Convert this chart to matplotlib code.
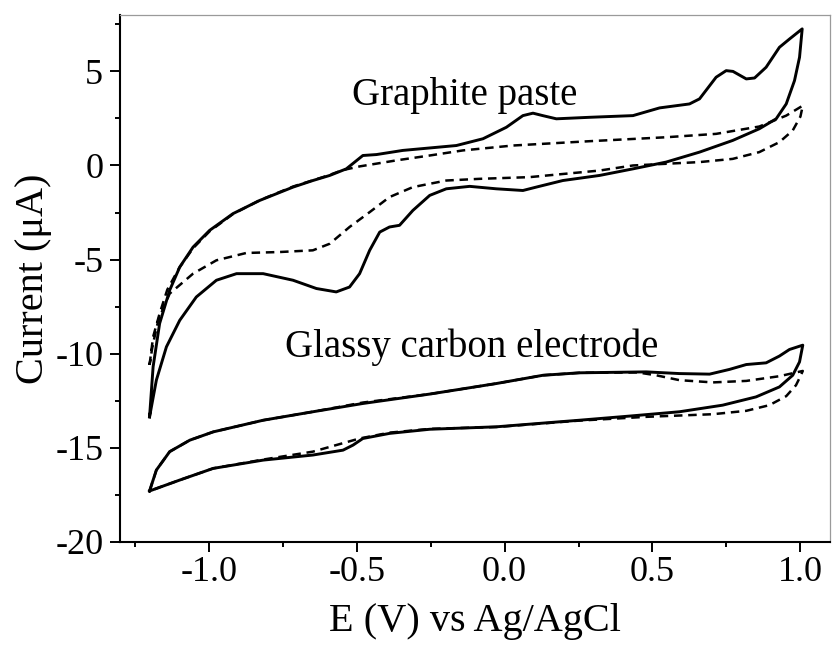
import matplotlib
matplotlib.use("Agg")
import matplotlib.pyplot as plt
from matplotlib.ticker import MultipleLocator, FormatStrFormatter

plt.rcParams['font.family'] = ['Liberation Serif', 'DejaVu Serif']
plt.rcParams['axes.unicode_minus'] = False

# Graphite paste electrode, solid curve (closed CV loop)
gp_solid_x = [-1.20, -1.188, -1.166, -1.132, -1.098, -1.053, -0.997, -0.918, -0.828, -0.715,
              -0.648, -0.591, -0.535, -0.479, -0.433, -0.344, -0.163, -0.073, 0.006, 0.062,
              0.096, 0.129, 0.175, 0.287, 0.434, 0.524, 0.625, 0.659, 0.715, 0.749,
              0.772, 0.817, 0.845, 0.884, 0.929, 0.963, 1.006,
              0.997, 0.98, 0.952, 0.918, 0.861, 0.771, 0.659, 0.546, 0.434, 0.321,
              0.197, 0.107, 0.062, -0.028, -0.118, -0.197, -0.253, -0.31, -0.355, -0.389,
              -0.422, -0.456, -0.49, -0.524, -0.569, -0.636, -0.715, -0.816, -0.906, -0.974,
              -1.042, -1.098, -1.143, -1.177, -1.20]
gp_solid_y = [-13.36, -10.7, -8.40, -6.63, -5.40, -4.34, -3.45, -2.56, -1.86, -1.15,
              -0.80, -0.53, -0.18, 0.53, 0.58, 0.80, 1.06, 1.42, 2.03, 2.65,
              2.78, 2.65, 2.48, 2.56, 2.65, 3.06, 3.27, 3.54, 4.69, 5.04,
              5.00, 4.60, 4.65, 5.22, 6.28, 6.72, 7.26,
              5.75, 4.51, 3.27, 2.48, 1.95, 1.33, 0.71, 0.18, -0.18, -0.53,
              -0.80, -1.15, -1.33, -1.24, -1.11, -1.24, -1.59, -2.39, -3.18, -3.27,
              -3.54, -4.51, -5.75, -6.46, -6.72, -6.54, -6.10, -5.75, -5.75, -6.10,
              -6.99, -8.23, -9.64, -11.41, -13.36]

# Graphite paste electrode, dashed curve
gp_dash_x = [-1.20, -1.188, -1.166, -1.14, -1.10, -1.053, -0.997, -0.918, -0.828, -0.715,
             -0.60, -0.548, -0.49, -0.366, -0.253, -0.141, 0.028, 0.287, 0.546, 0.715,
             0.861, 0.952, 1.008,
             1.0, 0.974, 0.929, 0.861, 0.771, 0.659, 0.546, 0.434, 0.321, 0.084,
             -0.084, -0.197, -0.31, -0.389, -0.456, -0.524, -0.591, -0.648, -0.76, -0.873,
             -0.974, -1.053, -1.132, -1.17, -1.19, -1.20]
gp_dash_y = [-10.6, -9.11, -7.87, -6.6, -5.45, -4.40, -3.50, -2.58, -1.85, -1.12,
             -0.55, -0.25, -0.05, 0.27, 0.53, 0.80, 1.06, 1.29, 1.50, 1.68,
             2.07, 2.65, 3.18,
             2.6, 1.86, 1.24, 0.71, 0.35, 0.18, 0.09, 0.0, -0.27, -0.62,
             -0.71, -0.80, -1.15, -1.68, -2.48, -3.27, -4.16, -4.51, -4.60, -4.65,
             -5.04, -5.75, -6.81, -8.2, -9.6, -10.6]

# Glassy carbon electrode, solid curve
gc_solid_x = [-1.20, -1.177, -1.132, -1.064, -0.985, -0.816, -0.648, -0.479, -0.253, -0.028,
              0.13, 0.253, 0.479, 0.591, 0.693, 0.76, 0.817, 0.884, 0.929, 0.963, 1.008,
              0.997, 0.974, 0.929, 0.85, 0.737, 0.591, 0.422, 0.253, -0.028, -0.253,
              -0.389, -0.479, -0.512, -0.546, -0.648, -0.816, -0.985, -1.098, -1.20]
gc_solid_y = [-17.3, -16.19, -15.21, -14.60, -14.16, -13.54, -13.09, -12.65, -12.15, -11.59,
              -11.15, -11.02, -10.97, -11.06, -11.09, -10.84, -10.58, -10.49, -10.13, -9.78, -9.55,
              -10.44, -11.15, -11.77, -12.30, -12.74, -13.09, -13.32, -13.54, -13.89, -14.02,
              -14.24, -14.51, -14.86, -15.13, -15.39, -15.66, -16.10, -16.72, -17.3]

# Glassy carbon electrode, dashed curve
gc_dash_x = [-1.20, -1.177, -1.132, -1.064, -0.985, -0.816, -0.648, -0.479, -0.253, -0.028,
             0.13, 0.253, 0.45, 0.512, 0.591, 0.704, 0.817, 0.929, 1.008,
             1.0, 0.985, 0.952, 0.895, 0.817, 0.704, 0.479, 0.253, -0.028, -0.253,
             -0.389, -0.49, -0.569, -0.648, -0.816, -0.985, -1.098, -1.20]
gc_dash_y = [-17.3, -16.19, -15.21, -14.60, -14.16, -13.54, -13.09, -12.60, -12.15, -11.59,
             -11.15, -11.02, -11.0, -11.15, -11.41, -11.53, -11.45, -11.2, -10.92,
             -11.2, -11.68, -12.26, -12.74, -13.04, -13.22, -13.36, -13.56, -13.9, -14.0,
             -14.2, -14.51, -14.86, -15.21, -15.63, -16.1, -16.72, -17.3]

labels = ["Graphite paste", "Glassy carbon electrode"]
label_pos_x = [-0.135, -0.11]
label_pos_y = [3.7, -9.66]

fig = plt.figure(figsize=(8.32, 6.5), dpi=100)
ax = fig.add_axes([0.1442, 0.1665, 0.8534, 0.8105])

lw = 2.1
dash = (0, (3.4, 2.3))
ax.plot(gp_solid_x, gp_solid_y, color='black', lw=lw, solid_joinstyle='round')
ax.plot(gp_dash_x, gp_dash_y, color='black', lw=1.8, linestyle=dash)
ax.plot(gc_solid_x, gc_solid_y, color='black', lw=lw, solid_joinstyle='round')
ax.plot(gc_dash_x, gc_dash_y, color='black', lw=1.8, linestyle=dash)

for t, x, y in zip(labels, label_pos_x, label_pos_y):
    ax.text(x, y, t, ha='center', va='center', fontsize=28)

ax.set_xlim(-1.3, 1.1)
ax.set_ylim(-20, 8)
ax.xaxis.set_major_locator(MultipleLocator(0.5))
ax.xaxis.set_minor_locator(MultipleLocator(0.25))
ax.yaxis.set_major_locator(MultipleLocator(5))
ax.yaxis.set_minor_locator(MultipleLocator(2.5))
ax.xaxis.set_major_formatter(FormatStrFormatter('%.1f'))

ax.tick_params(which='major', direction='out', length=7, width=1.4, labelsize=26)
ax.tick_params(which='minor', direction='out', length=3.6, width=1.4)
ax.tick_params(axis='x', which='major', pad=3)
ax.tick_params(axis='y', which='major', pad=5)
ax.tick_params(top=False, right=False, which='both')

for s in ['left', 'bottom']:
    ax.spines[s].set_linewidth(1.5)
    ax.spines[s].set_color('black')
for s in ['top', 'right']:
    ax.spines[s].set_linewidth(0.9)
    ax.spines[s].set_color('#9a9a9a')

ax.set_xlabel("E (V) vs Ag/AgCl", fontsize=29, labelpad=10)
ax.set_ylabel("Current (μA)", fontsize=29, labelpad=2)

fig.savefig("out.png", dpi=100)
